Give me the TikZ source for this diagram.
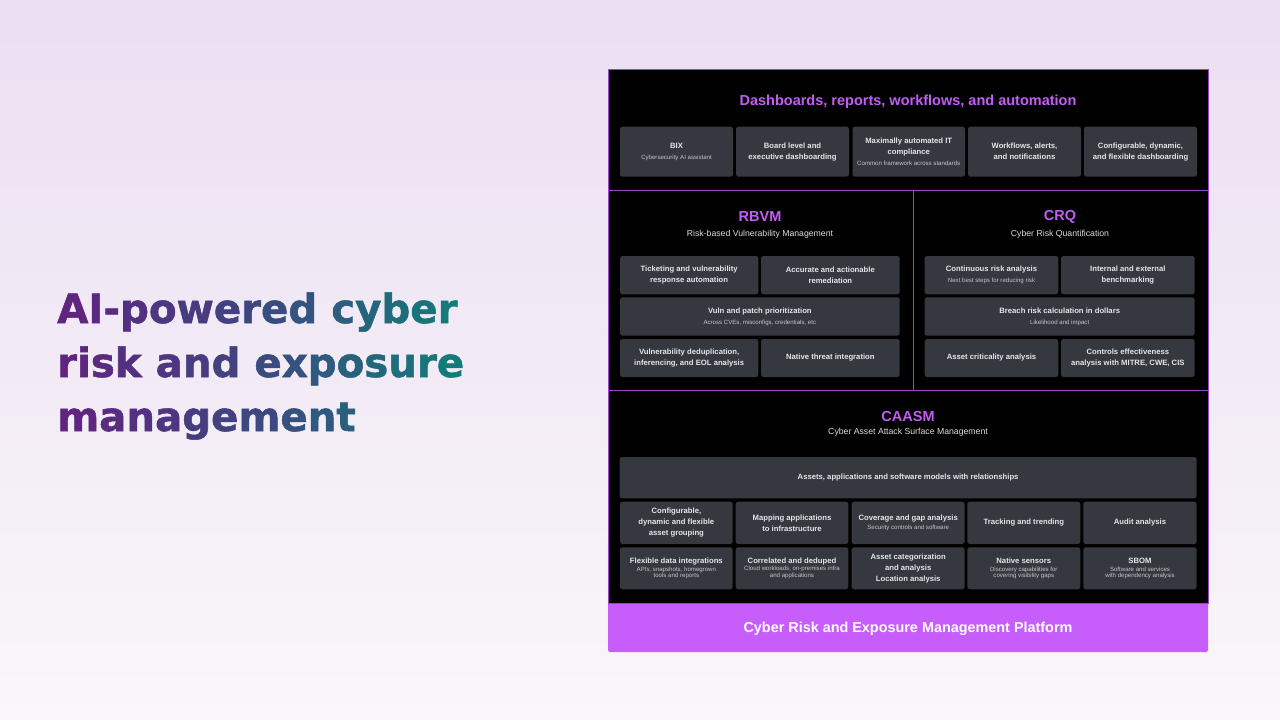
\documentclass[tikz,border=0pt]{standalone}
\usepackage{fontspec}
\setmainfont{Liberation Sans}
\newfontfamily\titlefont[BoldFeatures={FakeBold=1.3}]{DejaVu Sans}
\definecolor{bgtop}{HTML}{EBDEF1}
\definecolor{bgbot}{HTML}{F9F7FA}
\definecolor{cellgray}{HTML}{36383F}
\definecolor{celltext}{HTML}{E6E6E9}
\definecolor{subgray}{HTML}{C6C7CB}
\definecolor{headpurple}{HTML}{C45CF5}
\definecolor{linepurple}{HTML}{9A45C9}
\definecolor{barpurple}{HTML}{C75EFB}
\definecolor{subtitlegray}{HTML}{DCDCE0}
\definecolor{gstart}{HTML}{62227F}
\definecolor{gmid}{HTML}{3D4880}
\definecolor{gend}{HTML}{117E79}
\newcommand\subf{\fontsize{6.1}{7}\selectfont\mdseries\color{subgray}}
\ExplSyntaxOn
\dim_new:N \l_grad_x_dim
\box_new:N \l_grad_box
\fp_new:N \l_grad_f_fp
\int_new:N \l_grad_p_int
\NewDocumentCommand\gradtext{m}
 {
  \dim_zero:N \l_grad_x_dim
  \tl_map_inline:nn {#1}
   {
    \hbox_set:Nn \l_grad_box {##1}
    \fp_set:Nn \l_grad_f_fp { (\dim_to_fp:n {\l_grad_x_dim} + 0.5*\dim_to_fp:n {\box_wd:N \l_grad_box}) / 403 }
    \fp_compare:nNnTF \l_grad_f_fp < {0.5}
     {
      \int_set:Nn \l_grad_p_int { \fp_eval:n { round(200*\l_grad_f_fp) } }
      \color{gmid!\int_use:N \l_grad_p_int!gstart}
     }
     {
      \int_set:Nn \l_grad_p_int { \fp_eval:n { min(100,round(200*(\l_grad_f_fp-0.5))) } }
      \color{gend!\int_use:N \l_grad_p_int!gmid}
     }
    \box_use:N \l_grad_box
    \dim_add:Nn \l_grad_x_dim {\box_wd:N \l_grad_box}
   }
 }
\ExplSyntaxOff
\tikzset{
  cell/.style={fill=cellgray, rounded corners=2.5pt, inner sep=0pt, align=center,
    text=celltext, font=\fontsize{7.7}{11}\selectfont\bfseries},
  head/.style={text=headpurple, font=\fontsize{14.5}{17}\selectfont\bfseries, inner sep=0pt},
  subhead/.style={text=subtitlegray, font=\fontsize{8.7}{10}\selectfont, inner sep=0pt},
  divider/.style={draw=linepurple, line width=0.9pt},
  titleline/.style={anchor=base west, inner sep=0pt, font={\fontsize{40.3}{48}\titlefont\bfseries}},
}
\newcommand\cb[6]{\node[cell, minimum width={#4-#2}, minimum height={#5-#3}] (#1) at ({(#2+#4)/2},{(#3+#5)/2}) {#6};}
\begin{document}
\begin{tikzpicture}[x=1pt,y=-1pt]
\shade[top color=bgtop, bottom color=bgbot] (0,0) rectangle (1280,720);
\useasboundingbox (0,0) rectangle (1280,720);

% left title
\node[titleline] (title1) at (57,323) {\gradtext{AI-powered~cyber}};
\node[titleline] (title2) at (57,377) {\gradtext{risk~and~exposure}};
\node[titleline] (title3) at (57,431) {\gradtext{management}};

% panel
\fill[black] (608,69) rectangle (1208,603);
\fill[barpurple] (608,603) -- (1208,603) [rounded corners=2pt] -- (1208,652) -- (608,652) [sharp corners] -- cycle;
\draw[divider] (608,69) rectangle (1208,603);
\draw[divider] (608,190) -- (1208,190);
\draw[divider] (608,390) -- (1208,390);
\draw[divider] (913,190) -- (913,390);

% top section
\node[head] (dash) at (908,101.8) {Dashboards, reports, workflows, and automation};
\cb{t1}{620}{126.7}{733}{176.7}{BIX\\{\subf Cybersecurity AI assistant}}
\cb{t2}{736}{126.7}{849}{176.7}{Board level and\\executive dashboarding}
\cb{t3}{852.5}{126.7}{965}{176.7}{Maximally automated IT\\compliance\\{\subf Common framework across standards}}
\cb{t4}{968}{126.7}{1081}{176.7}{Workflows, alerts,\\and notifications}
\cb{t5}{1084}{126.7}{1197}{176.7}{Configurable, dynamic,\\and flexible dashboarding}

% RBVM
\node[head] (rbvm) at (760,217) {RBVM};
\node[subhead] (rbvmsub) at (760,234) {Risk-based Vulnerability Management};
\cb{r1}{620}{256}{758.3}{294.3}{Ticketing and vulnerability\\response automation}
\cb{r2}{761}{256}{899.7}{294.3}{Accurate and actionable\\remediation}
\cb{r3}{620}{297.3}{899.7}{335.7}{Vuln and patch prioritization\\{\subf Across CVEs, misconfigs, credentials, etc}}
\cb{r4}{620}{339}{758.3}{377}{Vulnerability deduplication,\\inferencing, and EOL analysis}
\cb{r5}{761}{339}{899.7}{377}{Native threat integration}

% CRQ
\node[head] (crq) at (1060,217) {CRQ};
\node[subhead] (crqsub) at (1060,234) {Cyber Risk Quantification};
\cb{c1}{924.7}{256}{1058.3}{294.3}{Continuous risk analysis\\{\subf Next best steps for reducing risk}}
\cb{c2}{1061}{256}{1194.7}{294.3}{Internal and external\\benchmarking}
\cb{c3}{924.7}{297.3}{1194.7}{335.7}{Breach risk calculation in dollars\\{\subf Likelihood and impact}}
\cb{c4}{924.7}{339}{1058.3}{377}{Asset criticality analysis}
\cb{c5}{1061}{339}{1194.7}{377}{Controls effectiveness\\analysis with MITRE, CWE, CIS}

% CAASM
\node[head] (caasm) at (908,417) {CAASM};
\node[subhead] (caasmsub) at (908,432) {Cyber Asset Attack Surface Management};
\cb{m0}{619.5}{457}{1196.7}{498.3}{Assets, applications and software models with relationships}
\cb{a1}{620}{501.7}{732.7}{544}{Configurable,\\dynamic and flexible\\asset grouping}
\cb{a2}{735.7}{501.7}{848.3}{544}{Mapping applications\\to infrastructure}
\cb{a3}{851.7}{501.7}{964.7}{544}{Coverage and gap analysis\\[-1.7pt]{\subf Security controls and software}}
\cb{a4}{967.3}{501.7}{1080.3}{544}{Tracking and trending}
\cb{a5}{1083.3}{501.7}{1196.7}{544}{Audit analysis}
\cb{b1}{620}{547.3}{732.7}{589.3}{Flexible data integrations\\[-3pt]{\subf APIs, snapshots, homegrown}\\[-4.3pt]{\subf tools and reports}}
\cb{b2}{735.7}{547.3}{848.3}{589.3}{Correlated and deduped\\[-3.5pt]{\subf Cloud workloads, on-premises infra}\\[-4pt]{\subf and applications}}
\cb{b3}{851.7}{547.3}{964.7}{589.3}{Asset categorization\\and analysis\\Location analysis}
\cb{b4}{967.3}{547.3}{1080.3}{589.3}{Native sensors\\[-3pt]{\subf Discovery capabilities for}\\[-4.3pt]{\subf covering visibility gaps}}
\cb{b5}{1083.3}{547.3}{1196.7}{589.3}{SBOM\\[-3pt]{\subf Software and services}\\[-4.3pt]{\subf with dependency analysis}}

% bottom bar
\node[text=white, font=\fontsize{14.4}{17}\selectfont\bfseries, inner sep=0pt] (platform) at (908,629) {Cyber Risk and Exposure Management Platform};
\end{tikzpicture}
\end{document}
